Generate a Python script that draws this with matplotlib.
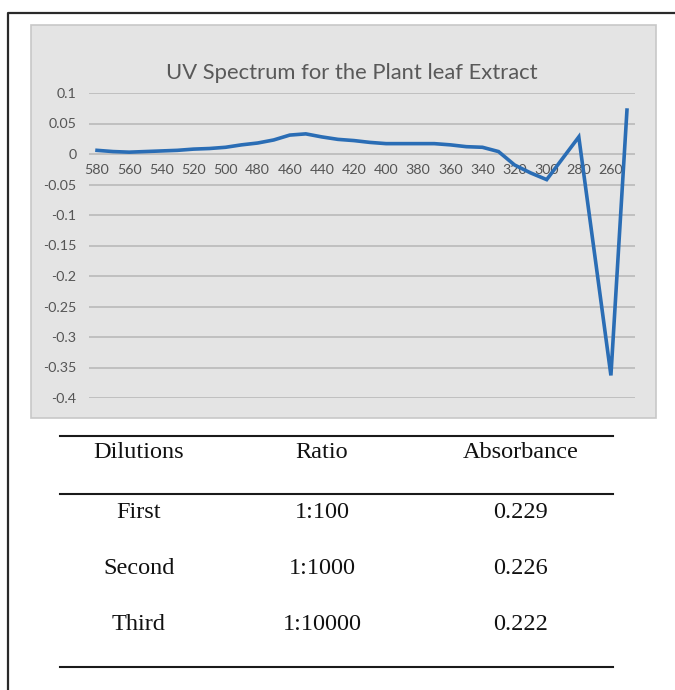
import matplotlib
matplotlib.use("Agg")
import matplotlib.pyplot as plt
from matplotlib.patches import Rectangle
from matplotlib.lines import Line2D

# ---- data ----
wavelengths = [580, 570, 560, 550, 540, 530, 520, 510, 500, 490, 480, 470,
               460, 450, 440, 430, 420, 410, 400, 390, 380, 370, 360, 350,
               340, 330, 320, 310, 300, 290, 280, 270, 260, 250]
absorbance = [0.006, 0.004, 0.003, 0.004, 0.005, 0.006, 0.008, 0.009, 0.011,
              0.015, 0.018, 0.023, 0.031, 0.033, 0.028, 0.024, 0.022, 0.019,
              0.017, 0.017, 0.017, 0.017, 0.015, 0.012, 0.011, 0.004, -0.018,
              -0.031, -0.042, -0.007, 0.028, -0.167, -0.363, 0.072]
y_ticks = [0.1, 0.05, 0, -0.05, -0.1, -0.15, -0.2, -0.25, -0.3, -0.35, -0.4]
y_tick_labels = ["0.1", "0.05", "0", "-0.05", "-0.1", "-0.15", "-0.2",
                 "-0.25", "-0.3", "-0.35", "-0.4"]
title = "UV Spectrum for the Plant leaf Extract"

table_header = ["Dilutions", "Ratio", "Absorbance"]
dilutions = ["First", "Second", "Third"]
ratios = ["1:100", "1:1000", "1:10000"]
table_abs = ["0.229", "0.226", "0.222"]

# ---- figure ----
W, H = 675, 690
fig = plt.figure(figsize=(W / 100, H / 100), dpi=100)
fig.patch.set_facecolor("white")

def fx(px):
    return px / W

def fy(py):
    return 1 - py / H

# outer black frame (left and top edges visible)
fig.add_artist(Line2D([fx(8), fx(8), fx(680)], [fy(700), fy(13), fy(13)],
                      transform=fig.transFigure, color="#2a2a2a", lw=1.6,
                      zorder=-2))

# chart area background
fig.add_artist(Rectangle((fx(31), fy(418)), fx(656) - fx(31), fy(25) - fy(418),
                         transform=fig.transFigure, facecolor="#e4e4e4",
                         edgecolor="#c8c8c8", lw=1.2, zorder=-1))

ax = fig.add_axes([fx(89), fy(398), fx(635) - fx(89), fy(93) - fy(398)])
ax.set_zorder(2)
ax.set_facecolor("none")
x = list(range(len(wavelengths)))
ax.plot(x, absorbance, color="#2a6db5", lw=2.6, solid_joinstyle="miter", zorder=3)
ax.set_xlim(-0.5, len(wavelengths) - 0.5)
ax.set_ylim(-0.4, 0.1)
ax.set_yticks(y_ticks)
ax.set_yticklabels(y_tick_labels)
ax.yaxis.grid(True, color="#bdbdbd", lw=1.3)
ax.set_axisbelow(True)
for s in ax.spines.values():
    s.set_visible(False)
ax.spines["bottom"].set_position(("data", 0))
ax.set_xticks(x[::2])
ax.set_xticklabels([str(w) for w in wavelengths[::2]])
ax.tick_params(axis="y", length=0, pad=9, labelsize=10.3, labelcolor="#555555")
ax.tick_params(axis="x", length=0, pad=7.5, labelsize=10.3, labelcolor="#555555")
for lab in ax.get_xticklabels() + ax.get_yticklabels():
    lab.set_family(["Lato", "DejaVu Sans"])

fig.text(fx(352), fy(73), title, ha="center", va="center", fontsize=15.8,
         color="#595959", family=["Lato", "DejaVu Sans"])

# ---- table ----
for yy in (436, 494, 667):
    fig.add_artist(Line2D([fx(60), fx(613)], [fy(yy), fy(yy)],
                          transform=fig.transFigure, color="#1a1a1a", lw=1.5))
col_x = [139, 322, 521]
serif = ["Liberation Serif", "DejaVu Serif"]
for cx, txt in zip(col_x, table_header):
    fig.text(fx(cx), fy(452), txt, ha="center", va="center", fontsize=17.5,
             color="#111111", family=serif)
for ry, row in zip([512, 568, 624], zip(dilutions, ratios, table_abs)):
    for cx, txt in zip(col_x, row):
        fig.text(fx(cx), fy(ry), txt, ha="center", va="center", fontsize=17.5,
                 color="#111111", family=serif)

fig.savefig("out.png", dpi=100)
